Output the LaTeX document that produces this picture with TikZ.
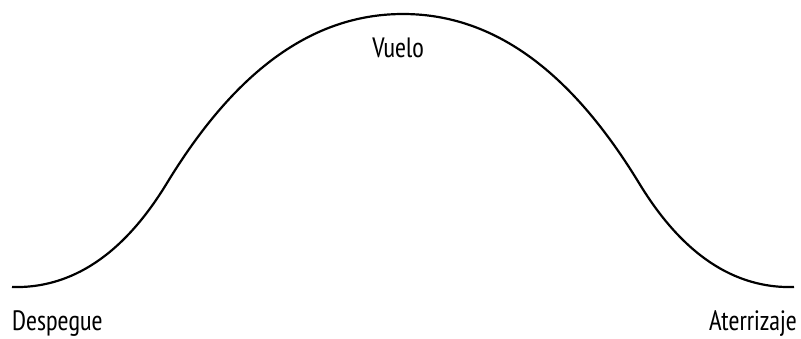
\documentclass[tikz,border=0pt]{standalone}
\usepackage{fontspec}
\setmainfont[FakeStretch=0.95]{PT Sans Narrow}

\begin{document}
\begin{tikzpicture}[
                x=1pt,
                y=-1pt,
                phase/.style={
                    inner sep=0pt,
                    font=\fontsize{28}{30}\selectfont
                },
                flight/.style={
                    line width=2.2pt
                }
            ]

                \useasboundingbox (0,0) rectangle (801,338);

                \coordinate (start) at (12,287);
                \coordinate (climb) at (167,183);
                \coordinate (peak) at (403,14);
                \coordinate (sink) at (639,183);
                \coordinate (end) at (794,287);

                \draw[flight] (start) .. controls (80,289) and (130,244) .. (climb)
                    .. controls (225,88) and (300,14) .. (peak)
                    .. controls (506,14) and (581,88) .. (sink)
                    .. controls (676,244) and (726,289) .. (end);

                \node[phase, anchor=base west] (takeoff) at (12,330) {Despegue};
                \node[phase, anchor=base] (cruise) at (398,57) {Vuelo};
                \node[phase, anchor=base east] (landing) at (797,330) {Aterrizaje};

            \end{tikzpicture}
\end{document}
